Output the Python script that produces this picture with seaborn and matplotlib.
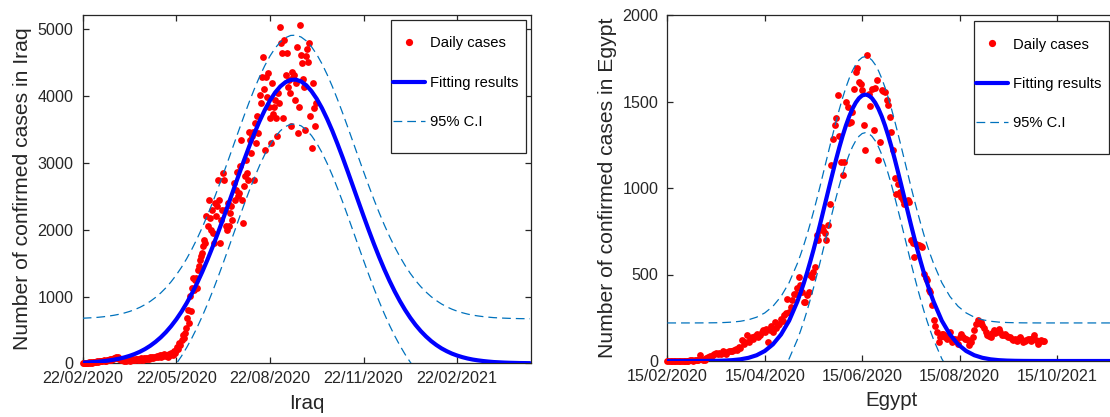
import numpy as np
import pandas as pd
import matplotlib
matplotlib.use("Agg")
import matplotlib.pyplot as plt
import seaborn as sns
from matplotlib.lines import Line2D
from matplotlib.patches import Rectangle

# ---------------- data ----------------
# Iraq daily confirmed cases, one value per day starting 22/02/2020
iraq_cases = [
    0, 3, 1, 5, 8, 4, 12, 7, 15, 10,
    18, 14, 25, 20, 30, 22, 35, 28, 40, 33,
    45, 38, 30, 50, 42, 55, 60, 48, 70, 65,
    85, 75, 95, 80, 90, 70, 60, 52, 45, 58,
    40, 50, 35, 48, 62, 38, 55, 45, 65, 50,
    42, 58, 70, 52, 60, 48, 72, 65, 55, 80,
    68, 75, 62, 85, 70, 90, 78, 95, 82, 100,
    88, 105, 92, 110, 120, 98, 130, 115, 140, 125,
    110, 130, 100, 145, 120, 160, 140, 125, 180, 160,
    200, 240, 220, 300, 280, 350, 420, 380, 460, 530,
    680, 800, 600, 1005, 780, 1130, 1280, 1100, 1250, 1270,
    1130, 1400, 1450, 1550, 1600, 1650, 1750, 1850, 1800, 2200,
    2050, 2450, 2180, 2000, 2300, 1950, 1800, 2400, 2200, 2350,
    2750, 2450, 1800, 2150, 2300, 2850, 2750, 2300, 2050, 2000,
    2400, 2050, 2250, 2350, 2150, 2700, 2450, 2600, 2870, 2500,
    2550, 2950, 3350, 2450, 2100, 2650, 2800, 3050, 2850, 2750,
    3470, 3350, 3150, 3400, 3470, 2750, 3600, 3300, 3700, 3450,
    4020, 3890, 4290, 4590, 4100, 3200, 4290, 3990, 4340, 3840,
    3670, 3300, 4190, 3740, 3840, 3940, 3670, 3400, 4050, 3900,
    5040, 4790, 4640, 3670, 4840, 4310, 4640, 4140, 4240, 4050,
    3550, 4360, 4290, 4310, 3940, 4200, 4740, 3450, 3840, 5060,
    4610, 4490, 4260, 4140, 3490, 4600, 4710, 4510, 4790, 3700,
    3220, 4190, 3820, 3550, 3890,
]

# Egypt daily confirmed cases, one value per day starting 15/02/2020
egypt_cases = [
    0, 0, 0, 0, 0, 0, 1, 0, 0, 0,
    1, 0, 2, 1, 3, 5, 2, 4, 6, 3,
    33, 12, 8, 7, 20, 25, 30, 22, 35, 40,
    48, 38, 45, 40, 55, 50, 42, 52, 58, 60,
    55, 65, 70, 62, 80, 75, 120, 100, 110, 150,
    110, 125, 139, 130, 145, 158, 140, 150, 165, 177,
    170, 187, 110, 180, 200, 168, 225, 190, 210, 216,
    245, 230, 264, 280, 360, 283, 312, 350, 390, 390,
    420, 486, 438, 400, 341, 341, 380, 400, 496, 486,
    515, 544, 727, 700, 756, 775, 760, 737, 700, 785,
    910, 1132, 1286, 1363, 1402, 1537, 1300, 1151, 1074, 1151,
    1498, 1469, 1373, 1383, 1440, 1575, 1672, 1691, 1614, 1600,
    1566, 1363, 1219, 1768, 1546, 1473, 1575, 1335, 1580, 1624,
    1161, 1267, 1566, 1560, 1556, 1508, 1479, 1412, 1325, 1219,
    1055, 968, 1026, 978, 950, 930, 910, 920, 930, 920,
    698, 680, 602, 679, 670, 669, 665, 660, 505, 480,
    467, 409, 400, 322, 235, 200, 168, 110, 139, 158,
    158, 140, 129, 150, 168, 110, 130, 125, 120, 100,
    140, 158, 140, 130, 125, 120, 91, 110, 139, 180,
    216, 235, 220, 225, 206, 190, 168, 150, 145, 139,
    160, 177, 160, 170, 187, 165, 148, 150, 158, 145,
    140, 139, 130, 120, 125, 118, 130, 139, 125, 110,
    115, 120, 125, 130, 118, 135, 148, 120, 100, 110,
    120, 115, 118,
]

# fitted curve (day index, value)
iraq_fit_day = list(range(0, 431, 5))
iraq_fit = [
    10, 14, 18, 24, 32, 42, 54, 69, 88, 111,
    139, 173, 214, 263, 321, 388, 466, 556, 658, 773,
    902, 1045, 1201, 1371, 1553, 1747, 1951, 2163, 2380, 2600,
    2819, 3035, 3244, 3442, 3625, 3790, 3934, 4054, 4146, 4210,
    4244, 4247, 4220, 4162, 4074, 3960, 3821, 3659, 3480, 3284,
    3078, 2863, 2644, 2424, 2206, 1993, 1787, 1591, 1406, 1234,
    1075, 930, 798, 680, 575, 483, 403, 333, 274, 223,
    181, 145, 116, 92, 72, 56, 44, 34, 26, 19,
    15, 11, 8, 6, 4, 3, 2,
]
iraq_ci_halfwidth = 665

egypt_fit_day = [0, 5, 10, 15, 20, 25, 30, 35, 40, 45, 50, 55, 60, 65, 70, 75, 80,
                 82, 84, 86, 88, 90, 92, 94, 96, 98, 100, 102, 104, 106, 108, 110,
                 112, 114, 116, 118, 120, 122, 124, 126, 128, 130, 132, 134, 136,
                 138, 140, 142, 144, 146, 148, 150, 152, 154, 156, 158, 160, 162,
                 164, 169, 174, 179, 184, 189, 194, 199, 204, 209, 214, 219, 224,
                 230, 240, 250, 260, 276]
egypt_fit = [0, 0, 0, 0, 0.2, 0.5, 1.1, 2.4, 4.9, 9.7, 18.4, 33.3, 57.8, 96, 153, 233, 342,
             393, 449, 509, 574, 642, 714, 788, 865, 942, 1019, 1094, 1168, 1238, 1303, 1362,
             1414, 1458, 1493, 1519, 1535, 1540, 1535, 1519, 1493, 1458, 1414, 1362, 1303,
             1238, 1168, 1094, 1019, 942, 865, 788, 714, 642, 574, 509, 449, 393,
             342, 233, 153, 96, 57.8, 33.3, 18.4, 9.7, 4.9, 2.4, 1.1, 0.5, 0.2,
             0, 0, 0, 0, 0]
egypt_ci_halfwidth = 220

iraq_ticks = [0, 90, 180, 270, 360]
iraq_ticklabels = ["22/02/2020", "22/05/2020", "22/08/2020", "22/11/2020", "22/02/2021"]
egypt_ticks = [0, 60, 120, 180, 240]
egypt_ticklabels = ["15/02/2020", "15/04/2020", "15/06/2020", "15/08/2020", "15/10/2021"]

legend_labels = ["Daily cases", "Fitting results", "95% C.I"]

# ---------------- style ----------------
sns.set_style("ticks")
plt.rcParams["font.family"] = ["Liberation Sans", "DejaVu Sans"]
DARK = "#262626"
plt.rcParams.update({
    "axes.edgecolor": DARK,
    "axes.labelcolor": DARK,
    "xtick.color": DARK,
    "ytick.color": DARK,
    "axes.linewidth": 0.9,
})

W, H = 1110, 417
fig = plt.figure(figsize=(W / 100, H / 100), dpi=100)

AXW = 448.3


def make_axes(left_px, top_px, bottom_px):
    return fig.add_axes([left_px / W, 1 - bottom_px / H, AXW / W, (bottom_px - top_px) / H])


def draw_panel(ax, cases, fit_day, fit, half, xmax, ymax, yticks, xticks, xticklabels,
               xlabel, ylabel, box_px):
    days = np.arange(len(cases))
    df_pts = pd.DataFrame({"day": days, "cases": cases})
    df_fit = pd.DataFrame({"day": fit_day, "fit": fit})
    df_fit["upper"] = df_fit["fit"] + half
    df_fit["lower"] = df_fit["fit"] - half

    sns.scatterplot(data=df_pts, x="day", y="cases", ax=ax, color="#FF0000", s=24,
                    linewidth=0, clip_on=False, zorder=3)
    sns.lineplot(data=df_fit, x="day", y="fit", ax=ax, color="#0000FF", linewidth=3.0,
                 zorder=4, sort=False)
    for col in ["upper", "lower"]:
        sns.lineplot(data=df_fit, x="day", y=col, ax=ax, color="#0072BD", linewidth=0.9,
                     linestyle=(0, (7, 4)), zorder=5, sort=False)

    ax.set_xlim(0, xmax)
    ax.set_ylim(0, ymax)
    ax.set_yticks(yticks)
    ax.set_yticklabels([str(v) for v in yticks], fontsize=11.6)
    ax.set_xticks(xticks)
    ax.set_xticklabels(xticklabels, fontsize=11.6)
    ax.tick_params(direction="in", length=4.5, width=0.9, top=True, right=True)
    ax.tick_params(axis="x", pad=5.5)
    ax.tick_params(axis="y", pad=6.5)
    for s in ax.spines.values():
        s.set_visible(True)
        s.set_color(DARK)
    ax.set_xlabel(xlabel, fontsize=14.8, labelpad=5.5)
    ax.set_ylabel(ylabel, fontsize=15.2, labelpad=4)

    # legend with MATLAB-like frame
    axl, axt, axb = box_px["ax_left"], box_px["ax_top"], box_px["ax_bottom"]
    axh = axb - axt
    bl, br, bt, bb = box_px["left"], box_px["right"], box_px["top"], box_px["bottom"]
    rect = Rectangle(((bl - axl) / AXW, (axb - bb) / axh), (br - bl) / AXW, (bb - bt) / axh,
                     transform=ax.transAxes, facecolor="white", edgecolor=DARK,
                     linewidth=0.9, zorder=6, clip_on=False)
    ax.add_patch(rect)
    handles = [
        Line2D([], [], color="#FF0000", marker="o", linestyle="none", markersize=5.2,
               markeredgewidth=0),
        Line2D([], [], color="#0000FF", linewidth=3.0),
        Line2D([], [], color="#0072BD", linewidth=0.9, linestyle=(0, (7, 4))),
    ]
    leg = ax.legend(handles, legend_labels, loc="upper left",
                    bbox_to_anchor=((bl + 2 - axl) / AXW, (axb - (bt + 16.5)) / axh),
                    frameon=False, fontsize=10.6, borderpad=0, borderaxespad=0,
                    handlelength=2.2, handletextpad=0.3, labelspacing=1.72)
    leg.set_zorder(7)
    for t in leg.get_texts():
        t.set_color("black")


ax1 = make_axes(82.7, 15, 363.3)
draw_panel(ax1, iraq_cases, iraq_fit_day, iraq_fit, iraq_ci_halfwidth, 431, 5215,
           [0, 1000, 2000, 3000, 4000, 5000], iraq_ticks, iraq_ticklabels,
           "Iraq", "Number of confirmed cases in Iraq",
           {"ax_left": 82.7, "ax_top": 15, "ax_bottom": 363.3,
            "left": 391, "right": 526, "top": 20, "bottom": 153})

ax2 = make_axes(667.3, 15, 361)
draw_panel(ax2, egypt_cases, egypt_fit_day, egypt_fit, egypt_ci_halfwidth, 276, 2000,
           [0, 500, 1000, 1500, 2000], egypt_ticks, egypt_ticklabels,
           "Egypt", "Number of confirmed cases in Egypt",
           {"ax_left": 667.3, "ax_top": 15, "ax_bottom": 361,
            "left": 974, "right": 1109, "top": 21, "bottom": 154})

fig.savefig("out.png", dpi=100, facecolor="white")
